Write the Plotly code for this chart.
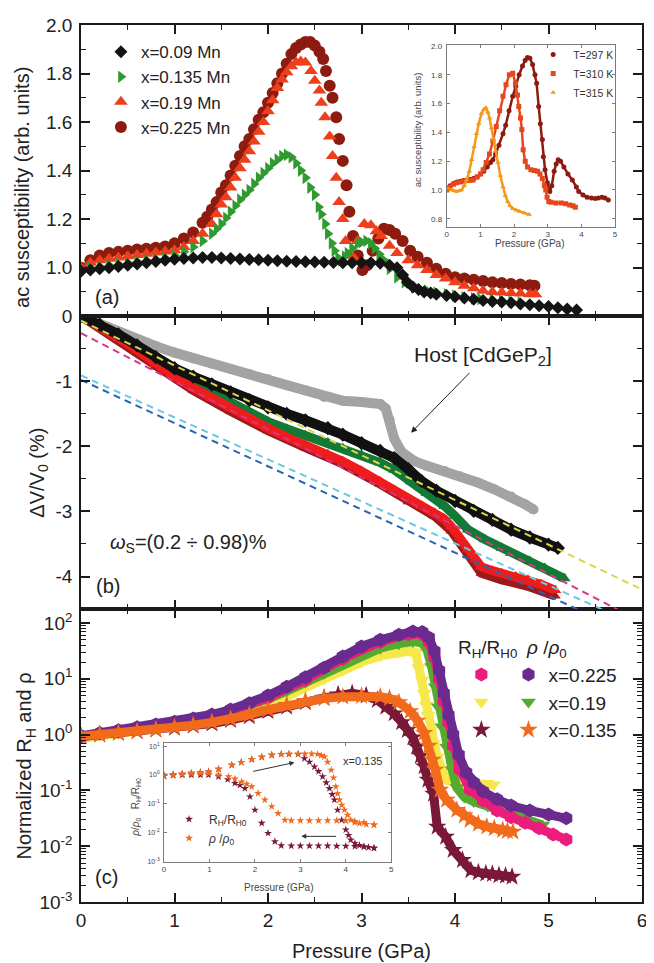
import plotly.graph_objects as go
import numpy as np

FONT = "Liberation Sans, Arial, sans-serif"

# ---------------- Panel (a): ac susceptibility vs pressure (P GPa, value) ----------------
a_x009 = [(0.0,0.985),(0.1,0.99),(0.2,0.995),(0.3,1.0),(0.4,1.005),(0.5,1.01),(0.6,1.015),(0.7,1.02),(0.8,1.025),
          (0.9,1.03),(1.0,1.035),(1.1,1.038),(1.2,1.04),(1.3,1.042),(1.4,1.042),(1.5,1.04),(1.6,1.038),(1.7,1.036),
          (1.8,1.034),(1.9,1.032),(2.0,1.03),(2.1,1.028),(2.2,1.026),(2.3,1.025),(2.4,1.024),(2.5,1.023),(2.6,1.022),
          (2.7,1.021),(2.8,1.02),(2.9,1.02),(3.0,1.02),(3.1,1.02),(3.2,1.018),(3.3,1.01),(3.38,1.0),(3.44,0.97),
          (3.49,0.94),(3.55,0.92),(3.61,0.91),(3.67,0.90),(3.74,0.895),(3.8,0.89),(3.91,0.885),(4.0,0.88),(4.1,0.875),
          (4.2,0.87),(4.3,0.865),(4.4,0.86),(4.5,0.858),(4.6,0.855),(4.7,0.85),(4.8,0.847),(4.9,0.843),(5.0,0.84),
          (5.1,0.835),(5.2,0.83),(5.3,0.825)]
a_x0135 = [(0.0,0.99),(0.1,1.0),(0.2,1.005),(0.3,1.01),(0.4,1.015),(0.5,1.02),(0.6,1.025),(0.7,1.03),(0.8,1.035),
           (0.9,1.04),(1.0,1.05),(1.1,1.065),(1.2,1.085),(1.3,1.11),(1.4,1.14),(1.45,1.16),(1.5,1.18),(1.55,1.205),
           (1.6,1.23),(1.65,1.255),(1.7,1.28),(1.75,1.30),(1.8,1.32),(1.85,1.345),(1.9,1.37),(1.95,1.39),(2.0,1.41),
           (2.05,1.43),(2.1,1.445),(2.15,1.46),(2.2,1.465),(2.25,1.455),(2.3,1.43),(2.35,1.40),(2.4,1.37),(2.45,1.33),
           (2.5,1.30),(2.54,1.25),(2.57,1.22),(2.61,1.18),(2.64,1.14),(2.68,1.10),(2.71,1.07),(2.75,1.04),(2.78,1.03),
           (2.82,1.045),(2.85,1.06),(2.9,1.08),(2.96,1.10),(3.0,1.105),(3.05,1.11),(3.1,1.10),(3.14,1.08),(3.19,1.055),
           (3.24,1.03),(3.3,0.995),(3.38,0.96),(3.46,0.94),(3.56,0.92),(3.63,0.91),(3.7,0.905),(3.8,0.897),(3.91,0.89),
           (4.0,0.885),(4.1,0.878),(4.2,0.873),(4.27,0.87),(4.4,0.866),(4.5,0.863),(4.6,0.86),(4.7,0.857)]
a_x019 = [(0.0,1.0),(0.1,1.02),(0.2,1.03),(0.3,1.037),(0.4,1.042),(0.5,1.047),(0.6,1.052),(0.7,1.057),(0.8,1.062),
          (0.9,1.066),(1.0,1.072),(1.1,1.085),(1.2,1.11),(1.3,1.14),(1.4,1.18),(1.45,1.22),(1.5,1.26),(1.55,1.29),
          (1.6,1.33),(1.65,1.37),(1.7,1.41),(1.75,1.445),(1.8,1.48),(1.85,1.52),(1.9,1.56),(1.95,1.60),(2.0,1.645),
          (2.05,1.69),(2.1,1.74),(2.15,1.775),(2.2,1.805),(2.25,1.83),(2.3,1.845),(2.35,1.85),(2.4,1.845),(2.46,1.81),
          (2.5,1.77),(2.55,1.73),(2.57,1.68),(2.61,1.62),(2.66,1.54),(2.69,1.46),(2.73,1.37),(2.76,1.27),(2.8,1.20),
          (2.83,1.11),(2.87,1.05),(2.92,1.04),(2.96,1.11),(3.03,1.18),(3.1,1.175),(3.16,1.15),(3.21,1.13),(3.3,1.09),
          (3.38,1.06),(3.5,1.03),(3.6,1.01),(3.7,0.99),(3.8,0.97),(3.9,0.955),(4.0,0.94),(4.1,0.925),(4.2,0.915),
          (4.3,0.905),(4.4,0.90),(4.5,0.898),(4.6,0.895),(4.7,0.893),(4.8,0.89),(4.86,0.89)]
a_x0225 = [(0.0,1.0),(0.1,1.03),(0.2,1.05),(0.3,1.06),(0.4,1.065),(0.5,1.07),(0.6,1.075),(0.7,1.078),(0.8,1.082),
           (0.9,1.087),(1.0,1.10),(1.1,1.12),(1.2,1.145),(1.3,1.185),(1.35,1.21),(1.4,1.24),(1.45,1.27),(1.5,1.31),
           (1.55,1.34),(1.6,1.38),(1.65,1.42),(1.7,1.46),(1.75,1.50),(1.8,1.53),(1.85,1.57),(1.9,1.61),(1.95,1.64),
           (2.0,1.68),(2.05,1.72),(2.1,1.76),(2.15,1.80),(2.2,1.84),(2.25,1.88),(2.3,1.905),(2.35,1.92),(2.4,1.93),
           (2.45,1.93),(2.5,1.915),(2.55,1.89),(2.59,1.86),(2.62,1.81),(2.66,1.75),(2.69,1.70),(2.73,1.62),(2.76,1.53),
           (2.8,1.44),(2.84,1.34),(2.87,1.23),(2.91,1.13),(2.96,1.05),(3.01,0.99),(3.06,1.01),(3.12,1.07),(3.18,1.12),
           (3.24,1.16),(3.30,1.155),(3.36,1.14),(3.44,1.11),(3.52,1.07),(3.6,1.045),(3.7,1.02),(3.8,0.995),(3.9,0.975),
           (4.0,0.96),(4.1,0.955),(4.2,0.95),(4.3,0.945),(4.4,0.94),(4.5,0.937),(4.6,0.933),(4.7,0.93),(4.8,0.927),(4.85,0.925)]
a_yticks = [0.8, 1.0, 1.2, 1.4, 1.6, 1.8, 2.0]
a_yticktext = ["0", "1.0", "1.2", "1.4", "1.6", "1.8", "2.0"]

# inset (a): x = 0.225 at three temperatures
ia_T297 = [(0.0,1.01),(0.1,1.03),(0.2,1.045),(0.3,1.055),(0.4,1.06),(0.5,1.065),(0.6,1.07),(0.7,1.075),(0.8,1.08),
           (0.9,1.09),(1.0,1.11),(1.1,1.13),(1.2,1.16),(1.3,1.19),(1.37,1.21),(1.45,1.25),(1.55,1.31),(1.67,1.39),
           (1.75,1.45),(1.85,1.55),(1.96,1.65),(2.05,1.72),(2.15,1.80),(2.25,1.86),(2.33,1.90),(2.4,1.92),(2.47,1.915),
           (2.55,1.87),(2.62,1.80),(2.67,1.74),(2.73,1.58),(2.78,1.46),(2.84,1.35),(2.87,1.23),(2.92,1.14),(2.99,1.05),
           (3.06,0.99),(3.12,1.03),(3.19,1.13),(3.25,1.18),(3.31,1.21),(3.38,1.20),(3.48,1.16),(3.6,1.11),(3.73,1.07),
           (3.85,1.02),(3.92,0.99),(4.05,0.965),(4.17,0.95),(4.3,0.945),(4.41,0.94),(4.5,0.945),(4.61,0.95),(4.7,0.945),(4.8,0.93)]
ia_T310 = [(0.0,1.0),(0.1,1.02),(0.2,1.04),(0.29,1.05),(0.4,1.055),(0.5,1.06),(0.6,1.065),(0.7,1.068),(0.78,1.07),
           (0.9,1.09),(1.0,1.11),(1.08,1.14),(1.17,1.19),(1.27,1.25),(1.37,1.34),(1.47,1.44),(1.57,1.55),(1.67,1.65),
           (1.76,1.73),(1.86,1.80),(1.96,1.81),(2.04,1.74),(2.1,1.66),(2.14,1.58),(2.19,1.50),(2.23,1.42),(2.27,1.28),
           (2.33,1.20),(2.4,1.16),(2.5,1.14),(2.6,1.135),(2.7,1.13),(2.77,1.11),(2.84,1.08),(2.9,1.03),(2.94,1.0),
           (2.98,0.95),(3.03,0.92),(3.1,0.915),(3.24,0.91),(3.4,0.91),(3.53,0.905),(3.65,0.895),(3.75,0.89),(3.82,0.88)]
ia_T315 = [(0.0,1.01),(0.05,1.005),(0.15,1.0),(0.22,0.995),(0.29,0.99),(0.37,0.995),(0.44,1.0),(0.52,1.03),
           (0.59,1.07),(0.67,1.13),(0.74,1.21),(0.81,1.30),(0.88,1.39),(0.95,1.46),(1.03,1.53),(1.1,1.56),(1.16,1.57),
           (1.22,1.54),(1.27,1.50),(1.33,1.43),(1.39,1.35),(1.45,1.27),(1.52,1.19),(1.59,1.10),(1.67,1.02),(1.74,0.96),
           (1.81,0.92),(1.88,0.89),(1.96,0.87),(2.06,0.86),(2.16,0.85),(2.3,0.84),(2.45,0.83)]

# ---------------- Panel (b): dV/V0 (%) ----------------
b_host = [(0.05,-0.03),(0.2,-0.12),(0.4,-0.25),(0.6,-0.36),(0.8,-0.46),(1.0,-0.56),(1.2,-0.65),(1.4,-0.73),
          (1.6,-0.81),(1.8,-0.89),(2.0,-0.97),(2.2,-1.06),(2.4,-1.14),(2.6,-1.24),(2.8,-1.30),(3.0,-1.32),
          (3.2,-1.35),(3.26,-1.42),(3.3,-1.59),(3.35,-1.88),(3.43,-2.09),(3.57,-2.23),(3.7,-2.30),(3.89,-2.38),
          (4.05,-2.46),(4.25,-2.56),(4.42,-2.66),(4.6,-2.77),(4.75,-2.89),(4.84,-2.97)]
b_x009 = [(0.0,0.0),(0.2,-0.13),(0.4,-0.28),(0.6,-0.45),(0.8,-0.63),(1.0,-0.80),(1.2,-0.93),(1.4,-1.05),(1.6,-1.17),
          (1.8,-1.29),(2.0,-1.40),(2.2,-1.50),(2.4,-1.60),(2.64,-1.72),(2.8,-1.82),(3.0,-1.95),(3.2,-2.07),(3.35,-2.18),
          (3.5,-2.35),(3.64,-2.53),(3.8,-2.68),(4.0,-2.84),(4.2,-2.99),(4.4,-3.13),(4.6,-3.28),(4.8,-3.40),(5.0,-3.51),(5.1,-3.56)]
b_x0135 = [(0.0,0.0),(0.2,-0.15),(0.4,-0.32),(0.6,-0.50),(0.8,-0.68),(1.0,-0.86),(1.2,-1.02),(1.4,-1.17),(1.6,-1.33),
           (1.8,-1.48),(2.0,-1.62),(2.2,-1.73),(2.4,-1.83),(2.64,-1.94),(2.8,-2.03),(3.0,-2.13),(3.2,-2.25),(3.35,-2.36),
           (3.53,-2.54),(3.7,-2.72),(3.89,-2.92),(4.0,-3.07),(4.14,-3.28),(4.32,-3.43),(4.5,-3.56),(4.6,-3.64),
           (4.8,-3.76),(4.96,-3.87),(5.17,-4.03)]
b_x019 = [(0.0,0.0),(0.2,-0.16),(0.4,-0.34),(0.6,-0.52),(0.8,-0.74),(1.0,-0.93),(1.2,-1.10),(1.4,-1.26),(1.6,-1.42),
          (1.8,-1.57),(2.0,-1.72),(2.2,-1.86),(2.4,-1.98),(2.64,-2.12),(2.8,-2.23),(3.0,-2.38),(3.2,-2.54),(3.35,-2.67),
          (3.5,-2.80),(3.65,-2.92),(3.78,-3.02),(3.88,-3.11),(3.96,-3.23),(4.05,-3.40),(4.14,-3.59),(4.22,-3.74),
          (4.28,-3.85),(4.4,-3.91),(4.5,-3.95),(4.65,-4.00),(4.78,-4.05),(4.92,-4.12),(5.07,-4.21)]
b_x0225 = [(0.0,0.0),(0.4,-0.37),(0.8,-0.78),(1.2,-1.14),(1.6,-1.46),(2.0,-1.76),(2.4,-2.02),(2.8,-2.27),(3.2,-2.58),
           (3.5,-2.85),(3.78,-3.07),(3.96,-3.30),(4.14,-3.68),(4.28,-3.95),(4.5,-4.05),(4.78,-4.15),(5.07,-4.30)]
b_fit_p = [0.0, 6.0]
b_fit_yellow = [-0.07, -4.20]
b_fit_magenta = [-0.26, -4.70]
b_fit_cyan = [-0.91, -4.78]
b_fit_blue = [-0.98, -4.96]

# ---------------- Panel (c): normalized R_H and rho (log10 of values) ----------------
c_rho_0225 = [(0.0,-0.02),(0.2,0.03),(0.4,0.08),(0.6,0.13),(0.8,0.18),(1.0,0.23),(1.2,0.29),(1.4,0.36),(1.6,0.45),
              (1.8,0.56),(2.0,0.70),(2.2,0.86),(2.4,1.03),(2.6,1.20),(2.8,1.40),(3.0,1.58),(3.2,1.70),(3.4,1.79),
              (3.55,1.85),(3.65,1.84),(3.72,1.74),(3.78,1.50),(3.83,1.15),(3.88,0.74),(3.93,0.35),(3.98,0.0),
              (4.04,-0.36),(4.12,-0.68),(4.2,-0.86),(4.3,-1.02),(4.45,-1.16),(4.6,-1.27),(4.8,-1.36),(5.0,-1.43),(5.19,-1.50)]
c_RH_0225 = [(0.0,-0.04),(0.4,0.05),(0.8,0.15),(1.2,0.26),(1.6,0.42),(2.0,0.66),(2.4,0.98),(2.8,1.36),(3.2,1.66),
             (3.5,1.80),(3.65,1.80),(3.72,1.66),(3.78,1.38),(3.83,1.0),(3.88,0.6),(3.93,0.22),(3.98,-0.2),(4.05,-0.62),
             (4.16,-0.98),(4.3,-1.18),(4.45,-1.36),(4.6,-1.48),(4.75,-1.58),(4.9,-1.68),(5.05,-1.79),(5.19,-1.88)]
c_rho_019 = [(0.0,-0.05),(0.2,0.0),(0.4,0.05),(0.6,0.1),(0.8,0.15),(1.0,0.2),(1.2,0.26),(1.4,0.33),(1.6,0.42),
             (1.8,0.52),(2.0,0.64),(2.2,0.78),(2.4,0.94),(2.6,1.1),(2.8,1.27),(3.0,1.43),(3.2,1.55),(3.4,1.63),
             (3.55,1.67),(3.65,1.64),(3.70,1.52),(3.75,1.22),(3.79,0.86),(3.82,0.5),(3.86,0.14),(3.91,-0.22),
             (3.97,-0.63),(4.02,-0.95),(4.1,-1.12),(4.2,-1.2),(4.35,-1.28),(4.51,-1.35),(4.7,-1.47),(4.94,-1.62)]
c_RH_019 = [(0.0,-0.07),(0.4,0.02),(0.8,0.11),(1.2,0.2),(1.6,0.35),(2.0,0.55),(2.2,0.68),(2.4,0.84),(2.6,1.0),
            (2.8,1.16),(3.0,1.30),(3.2,1.41),(3.4,1.48),(3.52,1.5),(3.58,1.47),(3.61,1.2),(3.65,0.98),(3.67,0.74),
            (3.69,0.53),(3.71,0.35),(3.74,0.08),(3.77,-0.16),(3.81,-0.4),(3.86,-0.63),(3.91,-0.81),(4.0,-0.86),
            (4.09,-0.87),(4.18,-0.87),(4.26,-0.87),(4.34,-0.88),(4.41,-0.9)]
c_RH_0135 = [(0.0,-0.03),(0.2,0.0),(0.4,0.03),(0.6,0.06),(0.8,0.09),(1.0,0.12),(1.2,0.16),(1.4,0.2),(1.6,0.26),
             (1.8,0.33),(2.0,0.42),(2.2,0.5),(2.4,0.58),(2.6,0.66),(2.75,0.72),(2.9,0.74),(3.05,0.7),(3.17,0.62),
             (3.26,0.5),(3.35,0.38),(3.43,0.22),(3.49,0.08),(3.55,-0.05),(3.59,-0.22),(3.63,-0.38),(3.67,-0.57),
             (3.71,-0.81),(3.77,-1.06),(3.81,-1.65),(3.9,-1.83),(3.98,-2.07),(4.08,-2.25),(4.17,-2.43),(4.25,-2.47),
             (4.33,-2.49),(4.4,-2.5),(4.47,-2.52),(4.54,-2.53),(4.61,-2.55)]
c_rho_0135 = [(0.0,-0.03),(0.2,0.0),(0.4,0.03),(0.6,0.06),(0.8,0.09),(1.0,0.13),(1.2,0.17),(1.4,0.22),(1.6,0.28),
              (1.8,0.36),(2.0,0.45),(2.2,0.53),(2.4,0.6),(2.6,0.65),(2.8,0.68),(3.0,0.69),(3.2,0.68),(3.3,0.65),
              (3.4,0.58),(3.52,0.42),(3.6,0.25),(3.67,0.03),(3.72,-0.2),(3.76,-0.45),(3.79,-0.63),(3.84,-0.99),
              (3.91,-1.17),(4.02,-1.35),(4.1,-1.45),(4.16,-1.53),(4.25,-1.6),(4.34,-1.65),(4.42,-1.68),(4.51,-1.71),
              (4.56,-1.73),(4.62,-1.74)]
c_ytickvals = [1e-3, 1e-2, 1e-1, 1e0, 1e1, 1e2]
c_yticktext = ["10<sup>-3</sup>", "10<sup>-2</sup>", "10<sup>-1</sup>", "10<sup>0</sup>", "10<sup>1</sup>", "10<sup>2</sup>"]

# inset (c): x = 0.135, increasing then decreasing pressure (log10 of values)
ic_RH_up = [(0.0,-0.04),(0.2,0.0),(0.4,0.03),(0.6,0.06),(0.8,0.09),(0.98,0.11),(1.2,0.2),(1.49,0.34),(1.7,0.44),
            (1.93,0.54),(2.15,0.62),(2.37,0.69),(2.58,0.72),(2.75,0.72),(2.95,0.72),(3.09,0.57),(3.2,0.45),(3.31,0.28),
            (3.4,0.12),(3.49,-0.06),(3.57,-0.27),(3.64,-0.47),(3.7,-0.68),(3.75,-0.87),(3.82,-1.22),(3.91,-1.57),
            (4.0,-1.91),(4.06,-2.1),(4.11,-2.26),(4.2,-2.38),(4.3,-2.45),(4.4,-2.5),(4.5,-2.52),(4.62,-2.55)]
ic_RH_down = [(4.62,-2.55),(4.4,-2.5),(4.2,-2.49),(4.0,-2.48),(3.8,-2.48),(3.6,-2.47),(3.4,-2.47),(3.2,-2.47),
              (3.0,-2.47),(2.8,-2.47),(2.58,-2.46),(2.44,-2.32),(2.29,-2.03),(2.15,-1.68),(2.0,-1.22),(1.89,-0.76),
              (1.78,-0.47),(1.67,-0.36),(1.56,-0.29),(1.4,-0.16),(1.2,-0.06),(0.98,0.0),(0.8,0.0),(0.6,0.0),
              (0.4,0.0),(0.2,-0.02),(0.0,-0.04)]
ic_rho_up = [(0.0,-0.04),(0.2,0.0),(0.4,0.03),(0.6,0.06),(0.8,0.09),(0.98,0.11),(1.2,0.2),(1.49,0.34),(1.7,0.44),
             (1.93,0.54),(2.15,0.62),(2.37,0.69),(2.58,0.72),(2.75,0.73),(2.95,0.73),(3.1,0.73),(3.25,0.73),(3.38,0.72),
             (3.46,0.68),(3.53,0.63),(3.6,0.45),(3.68,0.17),(3.73,-0.1),(3.78,-0.41),(3.82,-0.65),(3.86,-0.87),
             (3.91,-1.05),(3.97,-1.22),(4.04,-1.4),(4.11,-1.57),(4.2,-1.65),(4.3,-1.69),(4.45,-1.72),(4.62,-1.74)]
ic_rho_down = [(4.62,-1.74),(4.4,-1.66),(4.2,-1.62),(4.0,-1.6),(3.8,-1.59),(3.6,-1.59),(3.4,-1.59),(3.2,-1.59),
               (3.0,-1.59),(2.8,-1.59),(2.66,-1.57),(2.51,-1.34),(2.37,-1.1),(2.22,-0.87),(2.07,-0.64),(1.93,-0.41),
               (1.82,-0.32),(1.71,-0.24),(1.56,-0.14),(1.42,-0.06),(1.2,0.0),(0.98,0.05),(0.8,0.05),(0.6,0.04),
               (0.4,0.03),(0.2,0.02),(0.0,0.0)]
ic_ytickvals = [1e-3, 1e-2, 1e-1, 1e0, 1e1]
ic_yticktext = ["10<sup>-3</sup>", "10<sup>-2</sup>", "10<sup>-1</sup>", "10<sup>0</sup>", "10<sup>1</sup>"]


def xy(pairs):
    p, v = zip(*pairs)
    return list(p), list(v)


def xy_log(pairs):
    p, v = zip(*pairs)
    return list(p), list(np.power(10.0, np.array(v)))


fig = go.Figure()


def add_series(px_, vy, xa, ya, col, sym, size, lw=0, name=None, legend=None, rank=1000, showlegend=True):
    if lw > 0:
        fig.add_trace(go.Scatter(x=px_, y=vy, mode="lines", showlegend=False, hoverinfo="skip",
                                 line=dict(color=col, width=lw), xaxis=xa, yaxis=ya))
    fig.add_trace(go.Scatter(x=px_, y=vy, mode="markers", name=name, legendrank=rank,
                             showlegend=(showlegend and name is not None),
                             marker=dict(symbol=sym, size=size, color=col, line=dict(width=0)),
                             xaxis=xa, yaxis=ya, legend=legend if legend else "legend"))


# ---- panel (a) (xaxis3 / yaxis3) ----
for data, name, sym, size, col, rank in [
        (a_x0225, "x=0.225 Mn", "circle", 12, "#8e1b10", 4),
        (a_x019, "x=0.19 Mn", "triangle-up", 12, "#ee3f1c", 3),
        (a_x0135, "x=0.135 Mn", "triangle-right", 11, "#2f9a30", 2),
        (a_x009, "x=0.09 Mn", "diamond", 10, "#141414", 1)]:
    px_, vy = xy(data)
    add_series(px_, vy, "x3", "y3", col, sym, size, 0, name, "legend", rank)

# ---- inset (a) (xaxis4 / yaxis4) ----
for data, name, sym, col, rank in [(ia_T297, "T=297 K", "circle", "#8e1b10", 1),
                                   (ia_T310, "T=310 K", "square", "#e8461c", 2),
                                   (ia_T315, "T=315 K", "triangle-up", "#f39a1e", 3)]:
    px_, vy = xy(data)
    add_series(px_, vy, "x4", "y4", col, sym, 5, 2.5, name, "legend2", rank)

# ---- panel (b) (xaxis2 / yaxis2) ----
for data, sym, size, col, lw in [
        (b_host, "circle", 10, "#a3a3a3", 10),
        (b_x0225, "triangle-up", 10, "#9c1a1a", 9),
        (b_x0135, "triangle-up", 11, "#137a36", 9),
        (b_x019, "triangle-up", 11, "#ee1c1c", 9),
        (b_x009, "diamond", 11, "#111111", 10)]:
    px_, vy = xy(data)
    add_series(px_, vy, "x2", "y2", col, sym, size, lw)
for vals, col in [(b_fit_blue, "#2466b0"), (b_fit_cyan, "#6cc7e0"),
                  (b_fit_magenta, "#d9338c"), (b_fit_yellow, "#d8d84a")]:
    fig.add_trace(go.Scatter(x=b_fit_p, y=vals, mode="lines", showlegend=False,
                             line=dict(color=col, width=2, dash="7px,5px"),
                             xaxis="x2", yaxis="y2"))

# ---- panel (c) (xaxis / yaxis) ----
for data, name, sym, size, col, leg, rank in [
        (c_RH_019, " ", "triangle-down", 13, "#f6e84a", "legend4", 2),
        (c_rho_019, "x=0.19", "triangle-down", 13, "#55ab2e", "legend3", 2),
        (c_RH_0225, " ", "hexagon", 14, "#ec1c7c", "legend4", 1),
        (c_rho_0225, "x=0.225", "hexagon", 14, "#6a2a8e", "legend3", 1),
        (c_RH_0135, " ", "star", 14, "#7a1838", "legend4", 3),
        (c_rho_0135, "x=0.135", "star", 14, "#f26a1b", "legend3", 3)]:
    px_, vy = xy_log(data)
    add_series(px_, vy, "x", "y", col, sym, size, 9, name, leg, rank)

# ---- inset (c) (xaxis5 / yaxis5) ----
for up, down, name, col, rank in [(ic_RH_up, ic_RH_down, "R<sub>H</sub>/R<sub>H0</sub>", "#7a1838", 1),
                                  (ic_rho_up, ic_rho_down, "<i>ρ</i> /<i>ρ</i><sub>0</sub>", "#f06a1e", 2)]:
    for k, data in enumerate([up, down]):
        px_, vy = xy_log(data)
        add_series(px_, vy, "x5", "y5", col, "star", 6, 0, name, "legend5", rank, showlegend=(k == 0))

# ---------------- axes ----------------
AX = "#1a1a1a"
TICKFONT = dict(size=19, color="#222", family=FONT)


def main_x(anchor, labels):
    return dict(domain=[0, 1], anchor=anchor, range=[0, 6], showline=True, linecolor=AX, linewidth=1.6,
                mirror="ticks", ticks="inside", ticklen=9, tickwidth=1.5, tickcolor=AX, dtick=1, tick0=0,
                minor=dict(ticks="inside", ticklen=5, dtick=0.5, tick0=0, tickwidth=1.3, tickcolor=AX),
                showgrid=False, zeroline=False, showticklabels=labels, tickfont=TICKFONT,
                ticklabelstandoff=0)


def main_y(anchor, domain, **kw):
    d = dict(domain=domain, anchor=anchor, showline=True, linecolor=AX, linewidth=1.6, mirror="ticks",
             ticks="inside", ticklen=9, tickwidth=1.5, tickcolor=AX, showgrid=False, zeroline=False,
             tickfont=TICKFONT, ticklabelstandoff=3)
    d.update(kw)
    return d


INSET_AX = "#7a7a7a"
INSET_FONT = dict(size=8, color="#444", family=FONT)


def inset_axis(anchor, domain, **kw):
    d = dict(domain=domain, anchor=anchor, showline=True, linecolor=INSET_AX, linewidth=1, mirror="ticks",
             ticks="inside", ticklen=3, tickwidth=1, tickcolor=INSET_AX, showgrid=False, zeroline=False,
             tickfont=INSET_FONT, ticklabelstandoff=0)
    d.update(kw)
    return d


LEG = dict(xanchor="left", yanchor="top", bgcolor="rgba(0,0,0,0)", tracegroupgap=0, itemsizing="trace")

# The page body has an 8 px margin: the figure is sized so it ends at the window's edge.
fig.update_layout(
    width=646, height=955,
    margin=dict(l=73, r=7, t=17, b=61),
    paper_bgcolor="white", plot_bgcolor="white",
    font=dict(family=FONT, color="#222"),
    xaxis=main_x("y", True),
    yaxis=main_y("x", [0, 0.334], type="log", range=[-3, 2.25], tickmode="array",
                 tickvals=c_ytickvals, ticktext=c_yticktext,
                 minor=dict(ticks="inside", ticklen=5, dtick="D1", tickwidth=1.2, tickcolor=AX)),
    xaxis2=main_x("y2", False),
    yaxis2=main_y("x2", [0.334, 0.668], range=[-4.5, 0], tickmode="array",
                  tickvals=[-4, -3, -2, -1, 0], ticktext=["-4", "-3", "-2", "-1", ""],
                  minor=dict(ticks="inside", ticklen=5, dtick=0.5, tick0=0, tickwidth=1.3, tickcolor=AX)),
    xaxis3=main_x("y3", False),
    yaxis3=main_y("x3", [0.668, 1.0], range=[0.8, 2.0], tickmode="array",
                  tickvals=a_yticks, ticktext=a_yticktext,
                  minor=dict(ticks="inside", ticklen=5, dtick=0.1, tick0=0.8, tickwidth=1.3, tickcolor=AX)),
    xaxis4=inset_axis("y4", [0.652, 0.952], range=[0, 5], dtick=1, tick0=0),
    yaxis4=inset_axis("x4", [0.770, 0.977], range=[0.745, 2.005], dtick=0.2, tick0=0.8, tickformat=".1f",
                      ticklabelstandoff=2),
    xaxis5=inset_axis("y5", [0.148, 0.553], range=[0, 5], dtick=1, tick0=0),
    yaxis5=inset_axis("x5", [0.046, 0.181], type="log", range=[-3.02, 1.1], tickmode="array",
                      tickvals=ic_ytickvals, ticktext=ic_yticktext, ticklabelstandoff=2,
                      tickfont=dict(size=7, color="#444", family=FONT)),
    legend=dict(x=0.0355, y=0.9896, font=dict(size=17, family=FONT, color="#222"), **LEG),
    legend2=dict(x=0.806, y=0.983, font=dict(size=10.5, family=FONT, color="#333"), **LEG),
    legend3=dict(x=0.762, y=0.281, font=dict(size=19, family=FONT, color="#222"), **LEG),
    legend4=dict(x=0.678, y=0.281, font=dict(size=19, family=FONT, color="#222"), **LEG),
    legend5=dict(x=0.157, y=0.111, font=dict(size=12, family=FONT, color="#333"), **LEG),
)

TXT = dict(family=FONT, color="#222")
C = dict(showarrow=False, xanchor="center", yanchor="middle")
ann = []
# panel labels
ann.append(dict(xref="x3", yref="y3", x=0.28, y=0.88, text="(a)", font=dict(size=20, **TXT), **C))
ann.append(dict(xref="x2", yref="y2", x=0.29, y=-4.14, text="(b)", font=dict(size=20, **TXT), **C))
ann.append(dict(xref="x", yref="y", x=0.27, y=-2.55, text="(c)", font=dict(size=20, **TXT), **C))
# panel (b) texts
ann.append(dict(xref="x2", yref="y2", x=4.30, y=-0.61, text="Host [CdGeP<sub>2</sub>]",
                font=dict(size=21, **TXT), **C))
ann.append(dict(xref="x2", yref="y2", x=3.53, y=-1.79, ax=4.17, ay=-0.85, axref="x2", ayref="y2", text="",
                showarrow=True, arrowhead=2, arrowsize=1.2, arrowwidth=1, arrowcolor="#222"))
ann.append(dict(xref="x2", yref="y2", x=0.29, y=-3.49, xanchor="left", yanchor="middle", showarrow=False,
                text="<i>ω</i><sub>S</sub>=(0.2 ÷ 0.98)%", font=dict(size=20, **TXT)))
# axis titles
ann.append(dict(xref="paper", yref="paper", x=-0.104, y=0.815, text="ac susceptibility (arb. units)",
                textangle=-90, font=dict(size=20, **TXT), **C))
ann.append(dict(xref="paper", yref="paper", x=-0.076, y=0.490, text="ΔV/V<sub>0</sub> (%)",
                textangle=-90, font=dict(size=20, **TXT), **C))
ann.append(dict(xref="paper", yref="paper", x=-0.099, y=0.155, text="Normalized R<sub>H</sub> and ρ",
                textangle=-90, font=dict(size=20, **TXT), **C))
ann.append(dict(xref="paper", yref="paper", x=0.5, y=-0.056, text="Pressure (GPa)",
                font=dict(size=20, **TXT), **C))
# panel (c) legend header
ann.append(dict(xref="paper", yref="paper", x=0.724, y=0.289, text="R<sub>H</sub>/R<sub>H0</sub>",
                font=dict(size=19, **TXT), **C))
ann.append(dict(xref="paper", yref="paper", x=0.829, y=0.289, text="<i>ρ</i> /<i>ρ</i><sub>0</sub>",
                font=dict(size=19, **TXT), **C))
# inset (a) titles
ann.append(dict(xref="paper", yref="paper", x=0.599, y=0.880, text="ac susceptibility (arb. units)",
                textangle=-90, font=dict(size=9.5, family=FONT, color="#444"), **C))
ann.append(dict(xref="paper", yref="paper", x=0.799, y=0.751, text="Pressure (GPa)",
                font=dict(size=10, family=FONT, color="#444"), **C))
# inset (c) titles and marks
ann.append(dict(xref="paper", yref="paper", x=0.099, y=0.108,
                text="<i>ρ</i>/<i>ρ</i><sub>0</sub>   R<sub>H</sub>/R<sub>H0</sub>",
                textangle=-90, font=dict(size=10, family=FONT, color="#444"), **C))
ann.append(dict(xref="paper", yref="paper", x=0.352, y=0.017, text="Pressure (GPa)",
                font=dict(size=10, family=FONT, color="#444"), **C))
ann.append(dict(xref="x5", yref="y5", x=4.37, y=0.49, text="x=0.135",
                font=dict(size=11, family=FONT, color="#333"), **C))
ann.append(dict(xref="x5", yref="y5", x=2.87, y=0.43, ax=1.93, ay=0.11, axref="x5", ayref="y5", text="",
                showarrow=True, arrowhead=2, arrowsize=1, arrowwidth=1, arrowcolor="#333"))
ann.append(dict(xref="x5", yref="y5", x=3.02, y=-2.14, ax=3.82, ay=-2.14, axref="x5", ayref="y5", text="",
                showarrow=True, arrowhead=2, arrowsize=1, arrowwidth=1, arrowcolor="#333"))
fig.update_layout(annotations=ann)

fig.write_html("out.html")
